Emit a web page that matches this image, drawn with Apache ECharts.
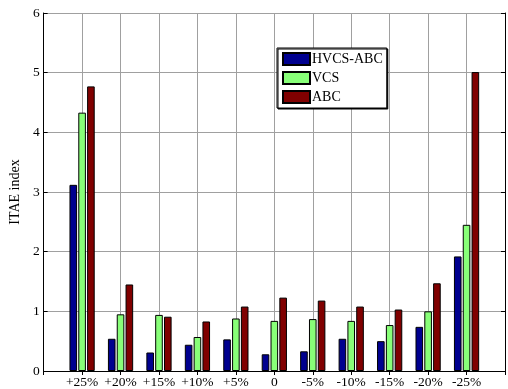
<!DOCTYPE html>
<html>
<head>
<meta charset="utf-8">
<script src="https://cdn.jsdelivr.net/npm/echarts@6/dist/echarts.min.js"></script>
<style>
  html, body { margin: 0; padding: 0; background: #fff; }
  #chart { width: 508px; height: 389px; }
</style>
</head>
<body>
<div id="chart"></div>
<script>
// Parameter variation cases along the x axis
const categories = ['+25%', '+20%', '+15%', '+10%', '+5%', '0', '-5%', '-10%', '-15%', '-20%', '-25%'];

// ITAE index per controller
const hvcsAbc = [3.12, 0.54, 0.31, 0.44, 0.53, 0.28, 0.33, 0.54, 0.50, 0.74, 1.92];
const vcs     = [4.33, 0.95, 0.94, 0.57, 0.88, 0.84, 0.87, 0.84, 0.77, 1.00, 2.45];
const abc     = [4.77, 1.45, 0.91, 0.83, 1.08, 1.23, 1.18, 1.08, 1.03, 1.47, 5.01];

const yTicks = [0, 1, 2, 3, 4, 5, 6];

// Empty slots at both ends leave a half-gap before the first and after the last group
const pad = arr => [null].concat(arr, [null]);
const axisCats = pad(categories).map(c => c === null ? '' : c);

const FONT = "'Liberation Serif', 'Times New Roman', serif";
const gridColor = '#a0a0a0';

function barSeries(name, data, color) {
  return {
    name: name,
    type: 'bar',
    data: pad(data),
    barWidth: 7.6,
    barGap: '16%',
    itemStyle: { color: color, borderColor: '#000', borderWidth: 1 }
  };
}

const chart = echarts.init(document.getElementById('chart'), null, { renderer: 'canvas' });
chart.setOption({
  animation: false,
  backgroundColor: '#fff',
  grid: { left: 40, top: 13, width: 470.4, height: 358 },
  legend: {
    orient: 'vertical',
    left: 277,
    top: 48,
    icon: 'rect',
    itemWidth: 27,
    itemHeight: 12,
    itemGap: 5,
    padding: [4, 4, 4, 5],
    backgroundColor: '#fff',
    borderColor: '#000',
    borderWidth: 1,
    shadowColor: '#000',
    shadowOffsetX: 1,
    shadowOffsetY: 1,
    shadowBlur: 0,
    textStyle: { fontFamily: FONT, fontSize: 14, color: '#000', padding: [0, 0, 0, -3] },
    data: ['HVCS-ABC', 'VCS', 'ABC']
  },
  xAxis: [
    {
      type: 'category',
      data: axisCats,
      boundaryGap: false,
      axisLine: { show: true, lineStyle: { color: '#000', width: 1 } },
      axisTick: { show: true, inside: true, length: 4, interval: 0, lineStyle: { color: '#000' } },
      axisLabel: { interval: 0, margin: 4, color: '#000', fontFamily: FONT, fontSize: 13.5 },
      splitLine: { show: true, interval: 0, lineStyle: { color: gridColor, width: 1 } }
    },
    {
      type: 'category',
      position: 'top',
      data: axisCats,
      boundaryGap: false,
      axisLine: { show: true, lineStyle: { color: '#000', width: 1 } },
      axisTick: { show: true, inside: true, length: 4, interval: 0, lineStyle: { color: '#000' } },
      axisLabel: { show: false },
      splitLine: { show: false }
    }
  ],
  yAxis: [
    {
      type: 'value',
      min: yTicks[0],
      max: yTicks[yTicks.length - 1],
      interval: 1,
      name: 'ITAE index',
      nameLocation: 'middle',
      nameGap: 20,
      nameRotate: 90,
      nameTextStyle: { fontFamily: FONT, fontSize: 14, color: '#000' },
      axisLine: { show: true, lineStyle: { color: '#000', width: 1 } },
      axisTick: { show: true, inside: true, length: 4, lineStyle: { color: '#000' } },
      axisLabel: { margin: 4, color: '#000', fontFamily: FONT, fontSize: 13.5 },
      splitLine: { show: true, lineStyle: { color: gridColor, width: 1 } }
    },
    {
      type: 'value',
      position: 'right',
      min: yTicks[0],
      max: yTicks[yTicks.length - 1],
      interval: 1,
      axisLine: { show: true, lineStyle: { color: '#000', width: 1 } },
      axisTick: { show: true, inside: true, length: 4, lineStyle: { color: '#000' } },
      axisLabel: { show: false },
      splitLine: { show: false }
    }
  ],
  series: [
    barSeries('HVCS-ABC', hvcsAbc, '#00008f'),
    barSeries('VCS', vcs, '#88ff78'),
    barSeries('ABC', abc, '#800000')
  ]
});
</script>
</body>
</html>
